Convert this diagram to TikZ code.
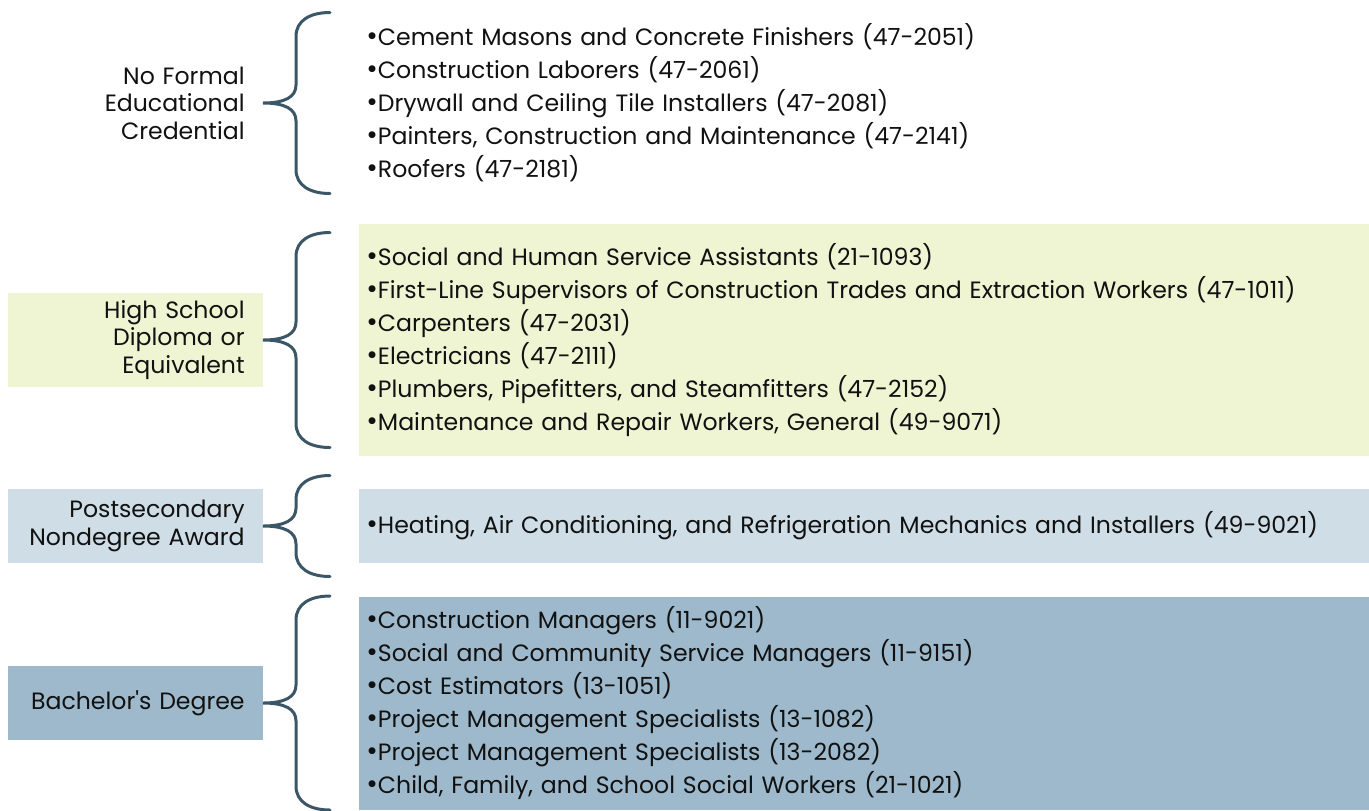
\documentclass[tikz,border=0pt]{standalone}
\usepackage{fontspec}
\setmainfont{Poppins}
\usetikzlibrary{positioning, calc}
\definecolor{edline}{HTML}{3B5666}
\definecolor{hsfill}{HTML}{EFF4D2}
\definecolor{psfill}{HTML}{CFDDE6}
\definecolor{bafill}{HTML}{9DB9CB}
\definecolor{edtext}{HTML}{111111}
\tikzset{
  edlabel/.style = {font=\fontsize{11.8}{13.75}\selectfont, text=edtext, align=right,
                    text width=109.5pt, inner xsep=9pt, inner ysep=0pt,
                    minimum height=37pt, anchor=east},
  edlist/.style  = {font=\fontsize{11.8}{16.5}\selectfont, text=edtext, align=left,
                    text width=498pt, inner xsep=3.5pt, inner ysep=0pt,
                    minimum height=37pt},
  edbrace/.style = {draw=edline, line width=1.5pt, line cap=round},
}
\newcommand\edbul{{\fontsize{14}{0}\selectfont •}}
% curly brace with its tip on the label node
\newcommand\edbrace[2]{%
  \begin{scope}[shift={(#1.east)}]
    \draw[edbrace] (67,-#2) .. controls (47,-#2) and (33,-#2+8) .. (33,-#2+24)
      -- (33,-18) .. controls (33,-6) and (22,0) .. (0,0)
      .. controls (22,0) and (33,6) .. (33,18)
      -- (33,#2-24) .. controls (33,#2-8) and (47,#2) .. (67,#2);
  \end{scope}}

\begin{document}
\begin{tikzpicture}[x=0.5pt, y=-0.5pt, node distance=48pt]
  \useasboundingbox (0,0) rectangle (1369,810);
  % levels
  \node[edlabel]                                  (nf) at (263,103) {No Formal\\Educational\\Credential};
  \node[edlabel, fill=hsfill, minimum height=47pt] (hs) at (263,340) {High School\\Diploma or\\Equivalent};
  \node[edlabel, fill=psfill]                     (ps) at (263,526) {Postsecondary\\Nondegree Award};
  \node[edlabel, fill=bafill]                     (ba) at (263,703) {Bachelor\textquotesingle s Degree};
  % occupations
  \node[edlist, right=of nf] (nfjobs) {%
    \edbul Cement Masons and Concrete Finishers (47-2051)\\
    \edbul Construction Laborers (47-2061)\\
    \edbul Drywall and Ceiling Tile Installers (47-2081)\\
    \edbul Painters, Construction and Maintenance (47-2141)\\
    \edbul Roofers (47-2181)};
  \node[edlist, fill=hsfill, minimum height=116pt, right=of hs] (hsjobs) {%
    \edbul Social and Human Service Assistants (21-1093)\\
    \edbul First-Line Supervisors of Construction Trades and Extraction Workers (47-1011)\\
    \edbul Carpenters (47-2031)\\
    \edbul Electricians (47-2111)\\
    \edbul Plumbers, Pipefitters, and Steamfitters (47-2152)\\
    \edbul Maintenance and Repair Workers, General (49-9071)};
  \node[edlist, fill=psfill, right=of ps] (psjobs) {%
    \edbul Heating, Air Conditioning, and Refrigeration Mechanics and Installers (49-9021)};
  \node[edlist, fill=bafill, minimum height=106.5pt, right=of ba] (bajobs) {%
    \edbul Construction Managers (11-9021)\\
    \edbul Social and Community Service Managers (11-9151)\\
    \edbul Cost Estimators (13-1051)\\
    \edbul Project Management Specialists (13-1082)\\
    \edbul Project Management Specialists (13-2082)\\
    \edbul Child, Family, and School Social Workers (21-1021)};
  % braces
  \edbrace{nf}{90.5}
  \edbrace{hs}{107.5}
  \edbrace{ps}{50.5}
  \edbrace{ba}{107}
\end{tikzpicture}
\end{document}
